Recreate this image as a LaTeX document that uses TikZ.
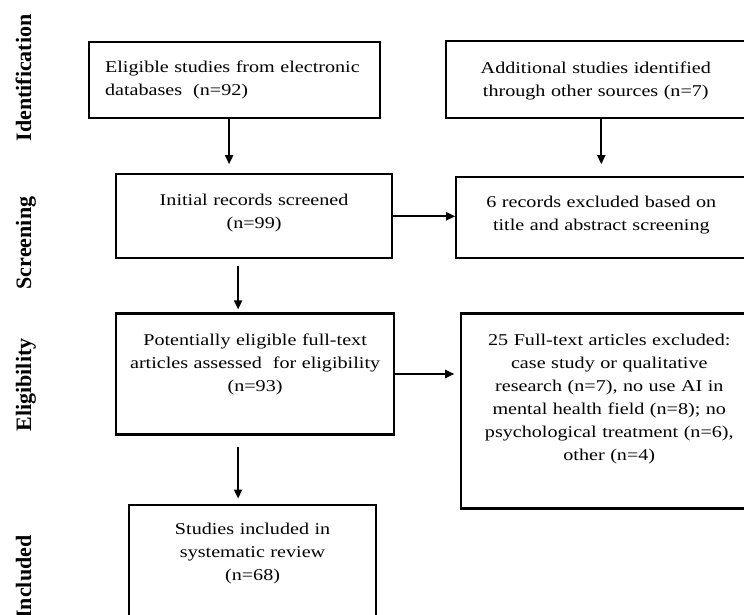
\documentclass[tikz,border=0pt]{standalone}
\usepackage{fontspec}
\setmainfont{Liberation Serif}
\newfontfamily\boxfont[FakeStretch=1.22]{Liberation Serif}
\usepackage{tikz}
\usetikzlibrary{arrows.meta, positioning}
\tikzset{
  box/.style={rectangle, draw=black, line width=2.2pt, fill=white,
              inner xsep=10pt, inner ysep=0pt, align=center,
              font=\boxfont\fontsize{16.5}{23}\selectfont},
  stage/.style={rotate=90, anchor=base,
                font=\bfseries\fontsize{22}{26}\selectfont},
  arrow/.style={-{Triangle[length=9pt, width=8pt]}, line width=1.8pt, draw=black},
}

\begin{document}
\begin{tikzpicture}[x=1pt, y=-1pt]
  \useasboundingbox (0,0) rectangle (744,615);

  % Stage labels
  \node[stage] (lid) at (31,78) {Identification};
  \node[stage] (lscr) at (31,243) {Screening};
  \node[stage] (lelig) at (31,385) {Eligibility};
  \node[stage] (linc) at (31,577) {Included};

  \node[box, anchor=north west, align=left, inner xsep=16pt, text width=259pt,
        text height=30pt, text depth=46pt] (elig) at (88,41)
    {Eligible studies from electronic\\databases~ (n=92)};
  \node[box, right=64pt of elig.north east, anchor=north west, yshift=1pt,
        text width=279pt, text height=32pt, text depth=45pt] (other)
    {Additional studies identified\\through other sources (n=7)};

  \node[box, below=54pt of elig.south west, anchor=north west, xshift=27pt,
        text width=256pt, text height=31pt, text depth=53pt] (screen)
    {Initial records screened\\(n=99)};
  \node[box, right=62pt of screen.north east, anchor=north west, yshift=-3pt,
        text width=270pt, text height=30pt, text depth=51pt] (excl1)
    {6 records excluded based on\\title and abstract screening};

  \node[box, below=53pt of screen.south west, anchor=north west,
        text width=258pt, text height=32pt, text depth=89pt] (full)
    {Potentially eligible full-text\\articles assessed~ for eligibility\\(n=93)};
  \node[box, right=65pt of full.north east, anchor=north west,
        text width=276pt, text height=32pt, text depth=163pt] (excl2)
    {25 Full-text articles excluded:\\case study or qualitative\\research (n=7), no use AI in\\mental health field (n=8); no\\psychological treatment (n=6),\\other (n=4)};

  \node[box, below=68pt of full.south west, anchor=north west, xshift=13pt,
        text width=227pt, text height=30pt, text depth=94pt] (incl)
    {Studies included in\\systematic review\\(n=68)};

  \draw[arrow, shorten >=9pt] ([xshift=-5.5pt]elig.south) -- ([xshift=-25pt]screen.north);
  \draw[arrow, shorten >=12pt] (excl1.north |- other.south) -- (excl1.north);
  \draw[arrow] (screen.east) -- (screen.east -| excl1.west);
  \draw[arrow, shorten <=7pt, shorten >=3pt] ([xshift=-16pt]screen.south) -- ([xshift=-17pt]full.north);
  \draw[arrow, shorten >=6pt] (full.east) -- (full.east -| excl2.west);
  \draw[arrow, shorten <=11pt, shorten >=5pt] ([xshift=-17pt]full.south) -- ([xshift=-14.5pt]incl.north);
\end{tikzpicture}
\end{document}
